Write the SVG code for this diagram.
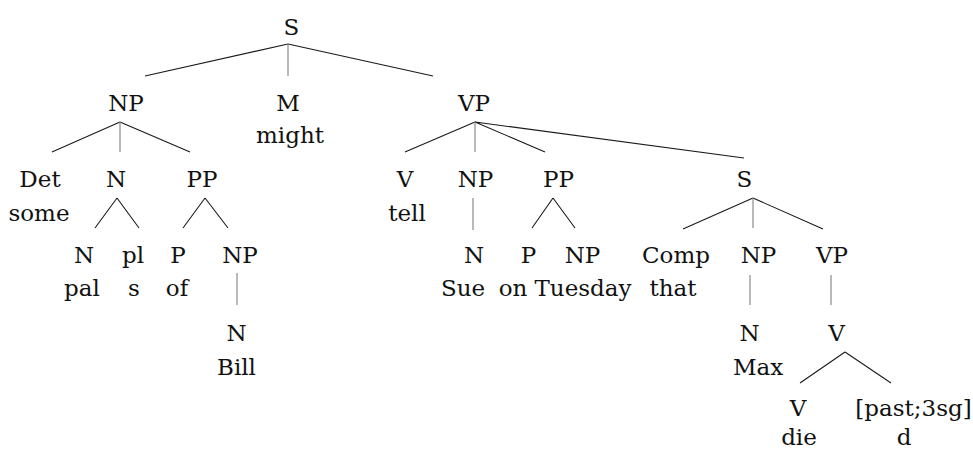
<svg xmlns="http://www.w3.org/2000/svg" width="973" height="450" viewBox="0 0 973 450">
<style>
.t text{font-size:23px;fill:#111;text-anchor:middle}
.e{stroke:#1a1a1a;stroke-width:1.1;fill:none}
.v{stroke:#8a8a8a;stroke-width:1.2;fill:none}
</style>
<rect width="973" height="450" fill="#fff"/>
<g id="connectors">
<path class="e" d="M288 44L145 76M288 44L433 76"/>
<path class="v" d="M288 44V76"/>
<path class="e" d="M120 122L52 152M120 122L190 152"/>
<path class="v" d="M120 122V152"/>
<path class="e" d="M475 122L405 152M475 122L545 152M475 122L744 158"/>
<path class="v" d="M475 122V152"/>
<path class="e" d="M117 198L95 228M117 198L139 228"/>
<path class="e" d="M205 198L183 228M205 198L228 228"/>
<path class="v" d="M473 198V230"/>
<path class="e" d="M553 198L532 228M553 198L575 228"/>
<path class="e" d="M753 198L683 229M753 198L823 229"/>
<path class="v" d="M753 198V228"/>
<path class="v" d="M237 273V305"/>
<path class="v" d="M750 275V305"/>
<path class="v" d="M831 275V305"/>
<path class="e" d="M845 352L800 383M845 352L891 383"/>
</g>
<g class="t" font-family="'DejaVu Serif', 'Liberation Serif', serif">
<g id="n-S"><text x="291.5" y="35">S</text></g>
<g id="n-NP1"><text x="126" y="111">NP</text></g>
<g id="n-M"><text x="288" y="111">M</text><text x="290" y="143">might</text></g>
<g id="n-VP1"><text x="474" y="111">VP</text></g>
<g id="n-Det"><text x="40" y="187">Det</text><text x="39" y="221">some</text></g>
<g id="n-N1"><text x="116" y="187">N</text></g>
<g id="n-PP1"><text x="202" y="187">PP</text></g>
<g id="n-V1"><text x="405" y="187">V</text><text x="407" y="221">tell</text></g>
<g id="n-NP2"><text x="475.5" y="187">NP</text></g>
<g id="n-PP2"><text x="558.5" y="187">PP</text></g>
<g id="n-S2"><text x="744.5" y="187">S</text></g>
<g id="n-N2"><text x="84" y="263">N</text><text x="82" y="296">pal</text></g>
<g id="n-pl"><text x="133" y="263">pl</text><text x="134" y="296">s</text></g>
<g id="n-P1"><text x="178" y="263">P</text><text x="177" y="296">of</text></g>
<g id="n-NP3"><text x="240" y="263">NP</text></g>
<g id="n-N3"><text x="474" y="263">N</text><text x="463" y="296">Sue</text></g>
<g id="n-P2"><text x="528.5" y="263">P</text><text x="513" y="296">on</text></g>
<g id="n-NP4"><text x="582.5" y="263">NP</text><text x="583" y="296">Tuesday</text></g>
<g id="n-Comp"><text x="676" y="263">Comp</text><text x="673" y="296">that</text></g>
<g id="n-NP5"><text x="758.5" y="263">NP</text></g>
<g id="n-VP2"><text x="832" y="263">VP</text></g>
<g id="n-N4"><text x="236.5" y="341">N</text><text x="236.5" y="375">Bill</text></g>
<g id="n-N5"><text x="749.5" y="341">N</text><text x="758" y="375">Max</text></g>
<g id="n-V2"><text x="836.5" y="341">V</text></g>
<g id="n-V3"><text x="798" y="416">V</text><text x="799" y="445">die</text></g>
<g id="n-Infl"><text x="913.5" y="416">[past;3sg]</text><text x="904" y="445">d</text></g>
</g>
</svg>
